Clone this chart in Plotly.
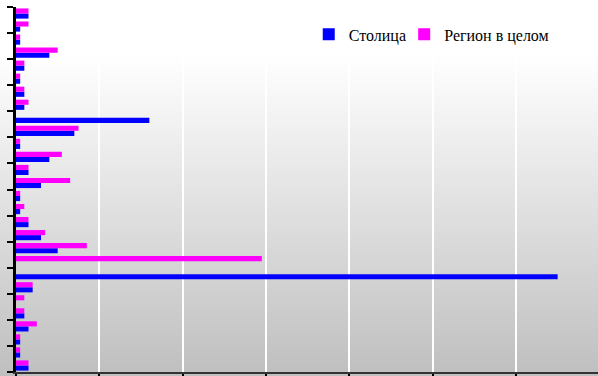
import plotly.graph_objects as go

# 28 categories, read top to bottom (no labels are visible in the picture)
rows = [str(i) for i in range(1, 29)]
stolitsa = [3, 1, 1, 8, 2, 1, 2, 2, 32, 14, 1, 8, 3, 6, 1, 1, 3, 6, 10, 0, 130, 4, 0, 2, 3, 1, 1, 3]
region = [3, 3, 1, 10, 2, 1, 2, 3, 0, 15, 1, 11, 3, 13, 1, 2, 3, 7, 17, 59, 0, 4, 2, 2, 5, 1, 1, 3]

W, H = 598, 376
L, R, T, B = 16, 0, 7, 4
ph = H - T - B

fig = go.Figure()
fig.add_trace(go.Bar(y=rows, x=stolitsa, orientation="h", name="Столица",
                     marker=dict(color="#0000ff", line_width=0)))
fig.add_trace(go.Bar(y=rows, x=region, orientation="h", name="Регион в целом",
                     marker=dict(color="#ff00ff", line_width=0), legend="legend2"))

# chart area gradient: white at top, grey at the bottom
shapes = []
step = 4
for py in range(0, H, step):
    mid = py + step / 2
    v = 255 if mid < 55 else int(round(255 - (mid - 55) * 0.2))
    col = "rgb(%d,%d,%d)" % (v, v, v)
    shapes.append(dict(type="rect", xref="paper", yref="paper",
                       x0=-0.1, x1=1.1,
                       y0=(H - B - py - step) / ph, y1=(H - B - py) / ph,
                       fillcolor=col, line_width=0, layer="below"))

leg_font = dict(family="Liberation Serif", size=16, color="black")

fig.update_layout(
    width=W, height=H,
    margin=dict(l=L, r=R, t=T, b=B, autoexpand=False),
    barmode="group", bargap=0.22, bargroupgap=0,
    paper_bgcolor="white", plot_bgcolor="rgba(0,0,0,0)",
    font=dict(family="Liberation Serif", size=16, color="black"),
    shapes=shapes,
    showlegend=True,
    legend=dict(orientation="h", x=0.503, y=0.925, xanchor="left", yanchor="middle",
                bgcolor="rgba(0,0,0,0)", itemwidth=30, font=leg_font),
    legend2=dict(orientation="h", x=0.667, y=0.925, xanchor="left", yanchor="middle",
                 bgcolor="rgba(0,0,0,0)", itemwidth=30, font=leg_font),
    xaxis=dict(range=[0, (W - L - R) / (83.33 / 20)], dtick=20, tick0=0,
               showgrid=True, gridcolor="white", gridwidth=1.5,
               zeroline=False, showline=True, linecolor="#333", linewidth=2,
               ticks="outside", ticklen=4, tickcolor="black", tickwidth=2,
               showticklabels=False, automargin=False),
    yaxis=dict(categoryorder="array", categoryarray=rows[::-1],
               tickson="boundaries", ticks="outside", ticklen=6,
               tickcolor="black", tickwidth=2,
               showline=True, linecolor="black", linewidth=3,
               showgrid=False, showticklabels=False, automargin=False),
)

fig.write_html("out.html", config={"displayModeBar": False},
               post_script="document.body.style.margin = '0';")
